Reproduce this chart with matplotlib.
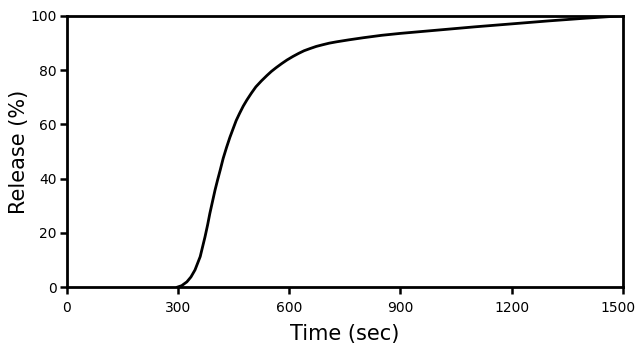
import matplotlib
matplotlib.use("Agg")
import matplotlib.pyplot as plt
import matplotlib.transforms as mtransforms

time_sec = [297, 310, 324, 335, 346, 360, 373, 380, 386, 393, 400, 407, 414, 422,
            431, 440, 449, 457, 466, 476, 486, 498, 510, 525, 540, 552, 565, 580,
            594, 610, 625, 640, 656, 673, 690, 708, 728, 760, 800, 850, 900, 1000,
            1100, 1200, 1300, 1400, 1500]
release = [0, 0.6, 2.0, 3.8, 6.4, 11.3, 18.6, 23, 27.2, 31.5, 35.8, 39.6, 43.2, 47.5,
           51.5, 55.2, 58.5, 61.4, 64, 66.7, 69, 71.5, 73.8, 76, 78, 79.5, 80.9, 82.4,
           83.7, 85, 86.1, 87.1, 87.9, 88.7, 89.3, 89.9, 90.4, 91.1, 91.9, 92.8, 93.5,
           94.7, 95.9, 97, 98.1, 99.1, 100]
x_ticks = [0, 300, 600, 900, 1200, 1500]
y_ticks = [0, 20, 40, 60, 80, 100]

plt.rcParams['font.family'] = ['DejaVu Sans']
fig = plt.figure(figsize=(6.37, 3.44), dpi=100)
ax = fig.add_axes([0.1047, 0.1648, 0.8733, 0.7895])
ax.plot(time_sec, release, color='black', lw=2.0, solid_capstyle='round',
        solid_joinstyle='round')
ax.set_xlim(0, 1500)
ax.set_ylim(0, 100)
ax.set_xticks(x_ticks)
ax.set_yticks(y_ticks)
ax.tick_params(direction='out', length=5, width=1.8, labelsize=10)
ax.tick_params(axis='x', pad=5)
ax.tick_params(axis='y', pad=2)
for s in ax.spines.values():
    s.set_linewidth(2.0)
ax.set_xlabel('Time (sec)', fontsize=15, labelpad=6)
ax.set_ylabel('Release (%)', fontsize=15, labelpad=1)
fig.canvas.draw()
lbls = ax.get_xticklabels()
lbls[-1].set_transform(lbls[-1].get_transform() +
                       mtransforms.ScaledTranslation(-5/100, 0, fig.dpi_scale_trans))
fig.savefig('out.png', dpi=100)
